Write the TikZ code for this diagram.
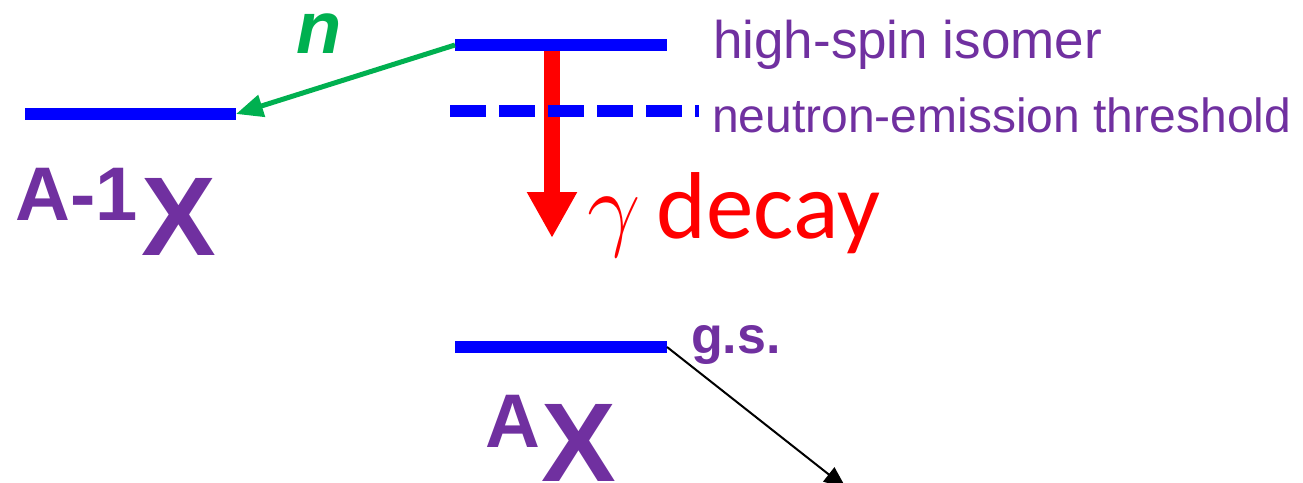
\RequirePackage{fix-cm}
\documentclass[tikz,border=0pt]{standalone}
\usepackage{fontspec}
\setmainfont{Liberation Sans}
\newfontfamily\calib{Carlito}
\usetikzlibrary{arrows.meta}
\definecolor{pur}{HTML}{7030A0}
\definecolor{grn}{HTML}{00B050}
\definecolor{lvblue}{HTML}{0000FF}
\definecolor{rd}{HTML}{FF0000}
\begin{document}
\begin{tikzpicture}[x=1pt,y=-1pt,
  level/.style={draw=lvblue, line width=12pt},
  lbl/.style={text=pur, inner sep=0pt, anchor=base west},
  fs/.style={font=\fontsize{#1}{#1}\selectfont}]
\useasboundingbox (0,0) rectangle (1303,482);
\clip (0,0) rectangle (1303,482);
% level end points
\coordinate (iso-l) at (455,45);  \coordinate (iso-r) at (667,45);
\coordinate (thr-l) at (450,111); \coordinate (thr-r) at (699,111);
\coordinate (gs-l)  at (455,347); \coordinate (gs-r)  at (667,347);
\coordinate (am-l)  at (25,114);  \coordinate (am-r)  at (236,114);
\coordinate (gtop)  at (552,51);  \coordinate (gtip)  at (552,238);
\coordinate (btip)  at (846,488);
% gamma arrow
\draw[draw=rd, line width=16pt, -{Triangle[length=46pt,width=47pt]}] (gtop) -- (gtip);
% levels
\draw[level] (iso-l) -- (iso-r);
\draw[level, dash pattern=on 36pt off 13pt] (thr-l) -- (thr-r);
\draw[level] (gs-l) -- (gs-r);
\draw[level] (am-l) -- (am-r);
% neutron arrow
\draw[draw=grn, line width=5pt, -{Triangle[length=27pt,width=22pt]}] (iso-l) -- (am-r);
% black arrow
\draw[line width=2pt, -{Triangle[length=22pt,width=18pt]}] (gs-r) -- (btip);
% labels
\node[lbl, fs=53] (hs) at (713,58) {high-spin isomer};
\node[lbl, fs=48] (th) at (712,132) {neutron-emission threshold};
\node[lbl, font=\bfseries\fontsize{52}{52}\selectfont] (gs) at (691,353) {g.s.};
\node[inner sep=0pt, anchor=base west, text=rd, font=\bfseries\itshape\fontsize{74}{74}\selectfont, text=grn] (n) at (296,53) {n};
\node[inner sep=0pt, anchor=base west, text=rd, font=\fontsize{95}{95}\selectfont] (gd) at (587,238) {\(\gamma\)\hspace{16pt}{\calib decay}};
\node[lbl, font=\bfseries\fontsize{76}{76}\selectfont] (a1) at (15,220) {A-1};
\node[lbl, font=\bfseries\fontsize{112}{112}\selectfont] (x1) at (141,255) {X};
\node[lbl, font=\bfseries\fontsize{76}{76}\selectfont] (a2) at (485,447) {A};
\node[lbl, font=\bfseries\fontsize{112}{112}\selectfont] (x2) at (541,481) {X};
\end{tikzpicture}
\end{document}
